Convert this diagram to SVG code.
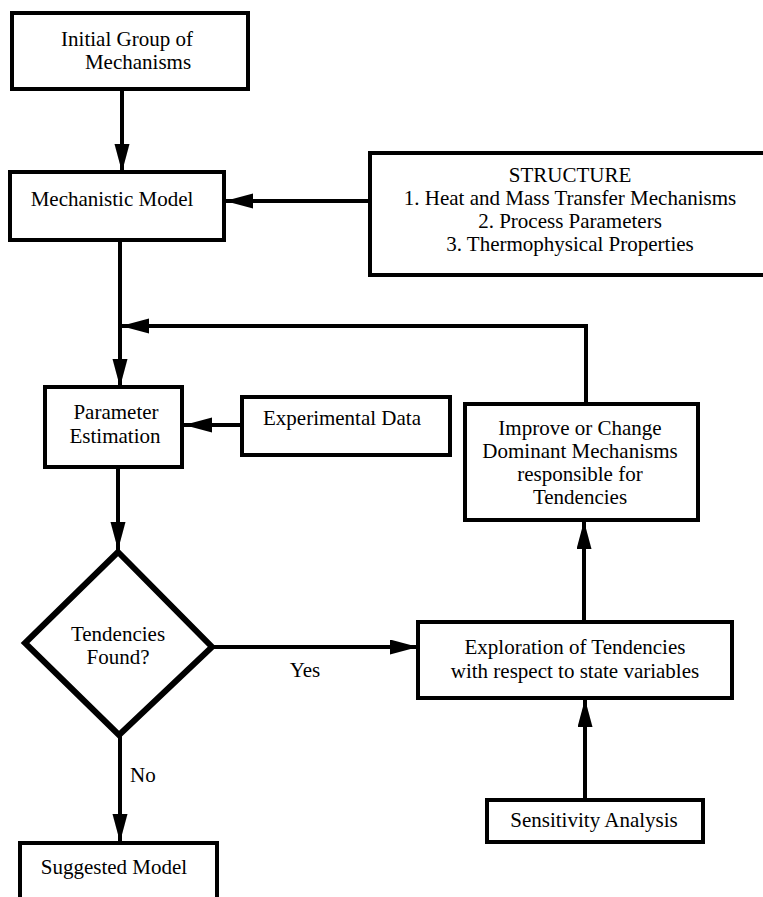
<svg xmlns="http://www.w3.org/2000/svg" width="763" height="897" viewBox="0 0 763 897" font-family="'Liberation Serif', 'DejaVu Serif', serif">
<style>
.box{fill:#fff;stroke:#000;stroke-width:4}
.dia{fill:#fff;stroke:#000;stroke-width:6;stroke-linejoin:miter}
text{font-family:'Liberation Serif','DejaVu Serif',serif;font-size:21px;fill:#000}
.t{text-anchor:middle}
.c{fill:none;stroke:#000;stroke-width:4}
</style>
<defs>
<marker id="ah" markerUnits="userSpaceOnUse" markerWidth="30" markerHeight="16" refX="28" refY="7.5" orient="auto">
<path d="M0,0 L28,7.5 L0,15 z" fill="#000"/>
</marker>
</defs>
<rect width="763" height="897" fill="#fff"/>
<g id="connectors">
<path class="c" d="M122,89 V172" marker-end="url(#ah)"/>
<path class="c" d="M370,201 H225" marker-end="url(#ah)"/>
<path class="c" d="M120,240 V387" marker-end="url(#ah)"/>
<path class="c" d="M586,404 V326 H121" marker-end="url(#ah)"/>
<path class="c" d="M242,425 H184" marker-end="url(#ah)"/>
<path class="c" d="M118,467 V550" marker-end="url(#ah)"/>
<path class="c" d="M214,647 H418" marker-end="url(#ah)"/>
<path class="c" d="M584,622 V521" marker-end="url(#ah)"/>
<path class="c" d="M585,800 V699" marker-end="url(#ah)"/>
<path class="c" d="M120,735 V842" marker-end="url(#ah)"/>
</g>
<g id="initial">
<rect class="box" x="12" y="13" width="236" height="76"/>
<text class="t" x="127" y="46">Initial Group of</text>
<text class="t" x="138" y="69">Mechanisms</text>
</g>
<g id="mechanistic">
<rect class="box" x="10" y="172" width="214" height="68"/>
<text class="t" x="112" y="206">Mechanistic Model</text>
</g>
<g id="structure">
<rect class="box" x="370" y="153" width="400" height="122"/>
<text class="t" x="570" y="182">STRUCTURE</text>
<text class="t" x="570" y="205">1. Heat and Mass Transfer Mechanisms</text>
<text class="t" x="570" y="228">2. Process Parameters</text>
<text class="t" x="570" y="251">3. Thermophysical Properties</text>
</g>
<g id="parameter">
<rect class="box" x="45" y="387" width="137" height="80"/>
<text class="t" x="116" y="419">Parameter</text>
<text class="t" x="115" y="443">Estimation</text>
</g>
<g id="experimental">
<rect class="box" x="242" y="397" width="208" height="58"/>
<text class="t" x="342" y="425">Experimental Data</text>
</g>
<g id="improve">
<rect class="box" x="465" y="404" width="233" height="116"/>
<text class="t" x="580" y="435">Improve or Change</text>
<text class="t" x="580" y="458">Dominant Mechanisms</text>
<text class="t" x="580" y="481">responsible for</text>
<text class="t" x="580" y="504">Tendencies</text>
</g>
<g id="decision">
<polygon class="dia" points="118,552 212,647 119,735 25,643"/>
<text class="t" x="118" y="641">Tendencies</text>
<text class="t" x="118" y="664">Found?</text>
</g>
<g id="exploration">
<rect class="box" x="418" y="622" width="314" height="76"/>
<text class="t" x="575" y="654">Exploration of Tendencies</text>
<text class="t" x="575" y="678">with respect to state variables</text>
</g>
<g id="sensitivity">
<rect class="box" x="487" y="800" width="216" height="42"/>
<text class="t" x="594" y="827">Sensitivity Analysis</text>
</g>
<g id="suggested">
<rect class="box" x="20" y="843" width="197" height="80"/>
<text class="t" x="114" y="874">Suggested Model</text>
</g>
<g id="labels">
<text class="t" x="305" y="677">Yes</text>
<text x="130" y="782">No</text>
</g>
</svg>
